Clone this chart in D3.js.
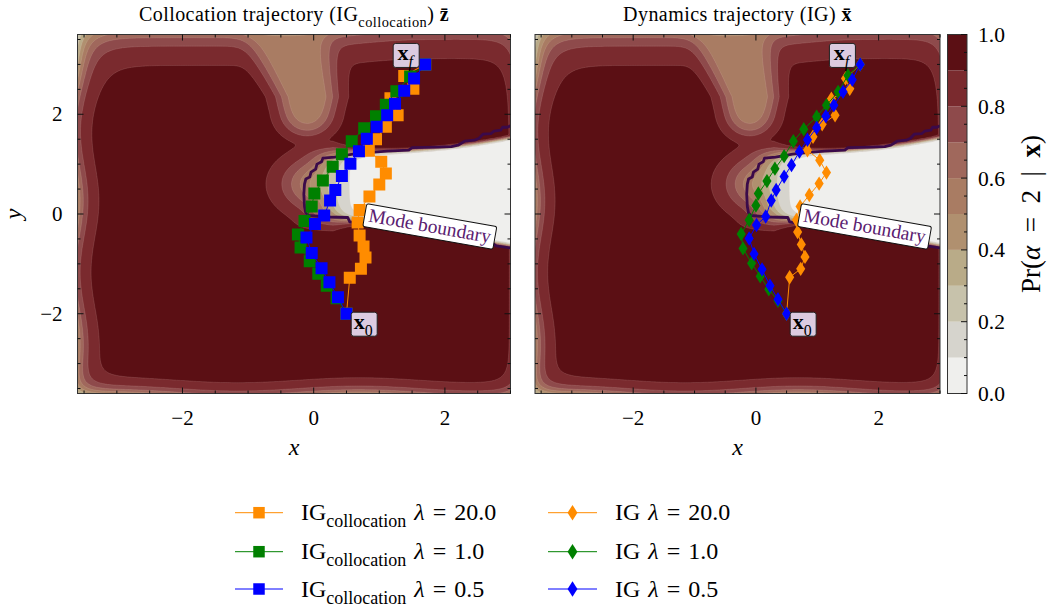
<!DOCTYPE html>
<html><head><meta charset="utf-8">
<script src="https://cdn.jsdelivr.net/npm/d3@7"></script>
<style>body{margin:0;background:#fff}</style>
</head><body><svg id="fig" width="1048" height="608"></svg>
<script>
// ---------- data ----------
const xDomain = [-3.6, 3.0];
const yDomain = [-3.6, 3.6];
const xTicks = [-2, 0, 2];
const yTicks = [-2, 0, 2];
const levels = [0, 0.1, 0.2, 0.3, 0.4, 0.5, 0.6, 0.7, 0.8, 0.9, 1.0];
const bandColors = ["#efefed", "#d6d4cd", "#c7c2ab", "#b9ab88", "#b0906f",
                    "#a97c63", "#a0685c", "#8e4a4b", "#7a2a2e", "#5b0f14"];
const cbTicks = [0, 0.2, 0.4, 0.6, 0.8, 1.0];
const lambdaLabels = ["20.0", "1.0", "0.5"];
const seriesColors = ["#ff8c00", "#008000", "#0000ff"];

// collocation trajectories (x, y)
const colloc20 = [[0.5,-2.0],[0.55,-1.28],[0.72,-1.1],[0.79,-0.87],[0.76,-0.65],[0.7,-0.43],[0.67,-0.17],[0.7,0.08],[0.85,0.35],[1.0,0.59],[1.1,0.81],[1.03,1.05],[0.84,1.27],[0.95,1.5],[1.1,1.75],[1.28,1.98],[1.17,2.32],[1.52,2.51],[1.38,2.77],[1.7,3.0]];
const colloc1 = [[0.5,-2.0],[0.35,-1.69],[0.2,-1.44],[0.07,-1.2],[-0.06,-0.95],[-0.2,-0.67],[-0.24,-0.41],[-0.14,-0.14],[-0.03,0.15],[0.01,0.41],[0.14,0.67],[0.29,0.95],[0.43,1.2],[0.58,1.46],[0.77,1.72],[0.95,1.96],[1.1,2.19],[1.26,2.46],[1.47,2.76],[1.7,3.0]];
const colloc05 = [[0.5,-2.0],[0.37,-1.67],[0.24,-1.37],[0.12,-1.09],[-0.03,-0.78],[-0.11,-0.47],[0.02,-0.2],[0.16,-0.03],[0.25,0.27],[0.33,0.48],[0.43,0.76],[0.56,1.01],[0.69,1.26],[0.81,1.51],[0.96,1.75],[1.12,1.98],[1.24,2.21],[1.38,2.47],[1.53,2.72],[1.7,3.0]];
// dynamics trajectories (x, y)
const ig20 = [[0.5,-2.0],[0.55,-1.27],[0.73,-1.1],[0.8,-0.86],[0.74,-0.61],[0.68,-0.36],[0.66,-0.12],[0.72,0.15],[0.87,0.38],[1.03,0.61],[1.15,0.83],[1.04,1.08],[0.84,1.28],[0.93,1.55],[1.08,1.8],[1.29,1.98],[1.23,2.31],[1.53,2.51],[1.46,2.72],[1.7,3.0]];
const ig1 = [[0.5,-2.0],[0.36,-1.74],[0.21,-1.51],[0.07,-1.25],[-0.07,-0.99],[-0.21,-0.69],[-0.24,-0.4],[-0.11,-0.12],[0.0,0.17],[0.04,0.41],[0.18,0.66],[0.31,0.91],[0.46,1.16],[0.61,1.46],[0.78,1.7],[0.99,1.95],[1.15,2.18],[1.34,2.45],[1.5,2.78],[1.7,3.0]];
const ig05 = [[0.5,-2.0],[0.36,-1.71],[0.23,-1.44],[0.1,-1.11],[-0.03,-0.8],[-0.11,-0.49],[0.01,-0.22],[0.16,-0.05],[0.25,0.27],[0.33,0.48],[0.46,0.75],[0.58,0.98],[0.71,1.25],[0.84,1.49],[0.99,1.73],[1.14,1.96],[1.27,2.18],[1.42,2.45],[1.57,2.69],[1.7,3.0]];

// mode boundary polyline (x, y)
const modeBoundary = [[3.0,1.77],[2.95,1.74],[2.88,1.74],[2.85,1.68],[2.75,1.66],[2.7,1.61],[2.58,1.6],[2.52,1.52],[2.45,1.48],[2.3,1.46],[2.2,1.38],[2.1,1.35],[1.9,1.34],[1.5,1.33],[1.45,1.28],[1.12,1.26],[0.82,1.23],[0.6,1.2],[0.32,1.14],[0.14,1.12],[0.12,1.05],[0.05,1.0],[0.03,0.9],[-0.04,0.84],[-0.06,0.74],[-0.12,0.7],[-0.14,0.6],[-0.15,0.4],[-0.14,0.15],[-0.12,0.02],[-0.08,-0.03],[0.22,-0.06],[0.52,-0.07],[0.55,-0.16],[1.0,-0.26],[1.6,-0.38],[2.2,-0.49],[2.7,-0.56],[2.78,-0.64],[3.0,-0.68]];

// annotation anchors (x, y)
const xfLabelPos = [1.41, 3.18];
const x0LabelPos = [0.77, -2.21];
const modeLabelPos = [1.77, -0.25];

// ---------- probability surface Pr(alpha = 2 | x) ----------
// logit = BASE - penalty; the penalty blends the border falloff, the upper valley
// between the two high-probability lobes, a halo round the wedge tip and the wedge.
const BASE = 3.2;
const edgeLeft = {at: -3.6, amp: 2.6, s: 0.28, wave: 0.06};
const edgeBottom = {at: -3.6, amp: 2.6, s: 0.28, wave: 0.05};
const edgeRight = {at: 3.0, amp: 1.1, s: 0.2};
const edgeTop = {at: 3.6, amp: 2.6, ampRight: 2.1, s: 0.65};
const valley = {amp: 4.2, cap: 3.0, yOn: 1.62, sOn: 0.2};
const halo = {amp: 3.2, cx: 0.08, cy: 0.6, sx: 0.75, sy: 0.72};
const wedge = {amp: 6.5, xTip: 0.12, sTip: 0.27, tau: 1.0};

const sig = v => 1 / (1 + Math.exp(-v));
function logitAt(x, y) {
  const xl = edgeLeft.at + edgeLeft.wave * Math.sin(2.2 * y + 1.0);
  const yb = edgeBottom.at + edgeBottom.wave * Math.sin(1.7 * x + 0.4);
  const eL = edgeLeft.amp * Math.exp(-(x - xl) / edgeLeft.s);
  const eB = edgeBottom.amp * Math.exp(-(y - yb) / edgeBottom.s);
  const eR = edgeRight.amp * Math.exp(-(edgeRight.at - x) / edgeRight.s);
  const aT = edgeTop.amp + (edgeTop.ampRight - edgeTop.amp) * sig((x - 0.8) / 0.3);
  const eT = aT * Math.exp(-(edgeTop.at - y) / edgeTop.s);
  const q = 1.4;
  const E = Math.pow(Math.pow(eL, q) + Math.pow(eB, q) + Math.pow(eR, q) + Math.pow(eT, q), 1 / q);

  const cx = y > 2.35 ? -0.1 - 0.25 * (y - 2.35) : -0.1;
  const w = 0.5 + 0.17 * Math.pow(Math.max(0, y - 2.0), 1.5);
  const vRaw = valley.amp * Math.exp(-Math.pow((x - cx) / w, 2)) * sig((y - valley.yOn) / valley.sOn);
  const V = -Math.log(Math.exp(-3 * vRaw) + Math.exp(-3 * valley.cap)) / 3;

  const H = halo.amp * Math.exp(-Math.pow((x - halo.cx) / halo.sx, 2) - Math.pow((y - halo.cy) / halo.sy, 2));

  const u = x - 1;
  const yTop = 1.25 + 0.02 * u + (u > 0 ? 0.06 * u * u : 0);
  const yBot = x < 0.8 ? -0.13 : -0.13 - 0.227 * (x - 0.8);
  const sT = 0.03 + 0.1 * Math.exp(-Math.max(0, x - 0.3) / 0.3);
  const sB = 0.03 + 0.1 * Math.exp(-Math.max(0, x - 0.3) / 0.3);
  const tTip = (wedge.xTip - x) / wedge.sTip;
  const tTop = (y - yTop) / sT;
  const tBot = (yBot - y) / sB;
  const m = Math.max(tTip, tTop, tBot);
  const t = m + wedge.tau * Math.log(Math.exp((tTip - m) / wedge.tau) + Math.exp((tTop - m) / wedge.tau) + Math.exp((tBot - m) / wedge.tau));
  const Wd = wedge.amp * sig(-t);

  const k = 5;
  const P = Math.pow(Math.pow(E, k) + Math.pow(V, k) + Math.pow(H, k) + Math.pow(Wd, k), 1 / k);
  return BASE - P;
}

// ---------- layout ----------
const FONT = "'Liberation Serif', 'Times New Roman', serif";
const svg = d3.select("#fig").attr("font-family", FONT);
const plotTop = 34.5, plotBottom = 393.5;
const panels = [
  {left: 77.5, right: 510.5, series: [colloc20, colloc1, colloc05], marker: "square",
   title: [{t: "Collocation trajectory (IG"}, {t: "collocation", sub: true}, {t: ") "}, {t: "z\u0304", b: true}]},
  {left: 535, right: 940, series: [ig20, ig1, ig05], marker: "diamond",
   title: [{t: "Dynamics trajectory (IG) "}, {t: "x\u0304", b: true}]}
];

function rich(textSel, parts, fs, subScale = 0.72) {
  let shift = 0;
  parts.forEach(p => {
    const ts = textSel.append("tspan").text(p.t);
    const target = p.sub ? fs * 0.3 : 0;
    if (target !== shift) { ts.attr("dy", target - shift); shift = target; }
    ts.attr("font-size", p.sub ? fs * subScale : fs);
    if (p.i) ts.attr("font-style", "italic");
    if (p.b) ts.attr("font-weight", "bold");
  });
}

// grid for the filled contours
const nx = 250, ny = 270;
const gx0 = -3.75, gx1 = 3.15, gy0 = -3.75, gy1 = 3.75;
const dxg = (gx1 - gx0) / (nx - 1), dyg = (gy1 - gy0) / (ny - 1);
const grid = new Float64Array(nx * ny);
for (let j = 0; j < ny; j++) for (let i = 0; i < nx; i++) {
  grid[j * nx + i] = sig(logitAt(gx0 + i * dxg, gy1 - j * dyg));
}
const bands = d3.contours().size([nx, ny]).thresholds(levels.slice(1, -1))(grid);

function markerPath(kind, size) {
  if (kind === "square") {
    const h = size / 2;
    return `M${-h},${-h}H${h}V${h}H${-h}Z`;
  }
  const hh = size * 0.6, hw = size * 0.38;
  return `M0,${-hh}L${hw},0L0,${hh}L${-hw},0Z`;
}

const sp = "\u2004";
panels.forEach((pn, k) => {
  const xs = d3.scaleLinear().domain(xDomain).range([pn.left, pn.right]);
  const ys = d3.scaleLinear().domain(yDomain).range([plotBottom, plotTop]);
  const g = svg.append("g");
  const clipId = "clip" + k;
  svg.append("clipPath").attr("id", clipId).append("rect")
    .attr("x", pn.left).attr("y", plotTop).attr("width", pn.right - pn.left).attr("height", plotBottom - plotTop);
  const plot = g.append("g").attr("clip-path", `url(#${clipId})`);

  plot.append("rect").attr("x", pn.left).attr("y", plotTop)
    .attr("width", pn.right - pn.left).attr("height", plotBottom - plotTop).attr("fill", bandColors[0]);
  const proj = d3.geoPath(d3.geoTransform({
    point(px, py) { this.stream.point(xs(gx0 + (px - 0.5) * dxg), ys(gy1 - (py - 0.5) * dyg)); }
  }));
  plot.selectAll("path.band").data(bands).join("path").attr("class", "band")
    .attr("d", proj)
    .attr("fill", d => bandColors[Math.round(d.value * 10)])
    .attr("stroke", "rgba(255,235,225,0.22)").attr("stroke-width", 0.6);

  // mode boundary
  const line = d3.line().x(d => xs(d[0])).y(d => ys(d[1]));
  plot.append("path").attr("d", line(modeBoundary)).attr("fill", "none")
    .attr("stroke", "#3b0a4a").attr("stroke-width", 2.8).attr("stroke-linejoin", "round");

  // trajectories
  pn.series.forEach((s, si) => {
    plot.append("path").attr("d", line(s)).attr("fill", "none")
      .attr("stroke", seriesColors[si]).attr("stroke-width", 1);
    plot.selectAll(null).data(s).join("path")
      .attr("transform", d => `translate(${xs(d[0])},${ys(d[1])})`)
      .attr("d", markerPath(pn.marker, 12))
      .attr("fill", seriesColors[si]);
  });

  // mode boundary label
  const ml = plot.append("g")
    .attr("transform", `translate(${xs(modeLabelPos[0])},${ys(modeLabelPos[1])}) rotate(10)`);
  const mlBox = ml.append("rect");
  const mlText = ml.append("text").attr("text-anchor", "middle").attr("dy", "0.3em")
    .attr("font-size", 19.5).attr("fill", "#5a2070").text("Mode boundary");
  const mw = mlText.node().getComputedTextLength();
  mlBox.attr("x", -mw / 2 - 4).attr("y", -11.5).attr("width", mw + 8).attr("height", 23)
    .attr("rx", 2).attr("fill", "#fff").attr("stroke", "#111").attr("stroke-width", 1);

  // endpoint labels
  [[xfLabelPos, "f", true], [x0LabelPos, "0", false]].forEach(([pos, sub, it]) => {
    const lg = plot.append("g").attr("transform", `translate(${xs(pos[0])},${ys(pos[1])})`);
    lg.append("rect").attr("x", -13).attr("y", -12).attr("width", 26).attr("height", 24).attr("rx", 2.5)
      .attr("fill", "#dccbe0").attr("stroke", "#222").attr("stroke-width", 1);
    const tx = lg.append("text").attr("x", -1).attr("y", 5).attr("text-anchor", "middle");
    rich(tx, [{t: "x", b: true}, {t: sub, sub: true, i: it}], 22);
  });

  // frame and ticks
  g.append("rect").attr("x", pn.left).attr("y", plotTop).attr("width", pn.right - pn.left)
    .attr("height", plotBottom - plotTop).attr("fill", "none").attr("stroke", "#333").attr("stroke-width", 1);
  const tk = g.append("g").attr("stroke", "#111").attr("stroke-width", 1);
  d3.range(-3.5, 3.01, 0.5).forEach(v => {
    const major = xTicks.includes(v), L = major ? 6 : 3;
    const x = xs(v);
    tk.append("line").attr("x1", x).attr("x2", x).attr("y1", plotBottom).attr("y2", plotBottom - L);
    tk.append("line").attr("x1", x).attr("x2", x).attr("y1", plotTop).attr("y2", plotTop + L);
  });
  d3.range(-3.5, 3.51, 0.5).forEach(v => {
    const major = yTicks.includes(v), L = major ? 6 : 3;
    const y = ys(v);
    tk.append("line").attr("x1", pn.left).attr("x2", pn.left + L).attr("y1", y).attr("y2", y);
    tk.append("line").attr("x1", pn.right).attr("x2", pn.right - L).attr("y1", y).attr("y2", y);
  });
  const fmt = v => (v < 0 ? "\u2212" : "") + Math.abs(v);
  g.selectAll(null).data(xTicks).join("text").attr("x", d => xs(d)).attr("y", 425)
    .attr("text-anchor", "middle").attr("font-size", 21).text(fmt);
  if (k === 0) {
    g.selectAll(null).data(yTicks).join("text").attr("x", pn.left - 15).attr("y", d => ys(d) + 7)
      .attr("text-anchor", "end").attr("font-size", 21).text(fmt);
    g.append("text").attr("transform", `translate(21,${ys(0)}) rotate(-90)`).attr("text-anchor", "middle")
      .attr("font-size", 24).attr("font-style", "italic").text("y");
  }
  g.append("text").attr("x", (pn.left + pn.right) / 2).attr("y", 455).attr("text-anchor", "middle")
    .attr("font-size", 24).attr("font-style", "italic").text("x");
  const tt = g.append("text").attr("x", (pn.left + pn.right) / 2).attr("y", 21).attr("text-anchor", "middle")
    .attr("letter-spacing", 0.45);
  rich(tt, pn.title, 20);
});

// ---------- colorbar ----------
const cb = {left: 947.5, right: 967};
const cs = d3.scaleLinear().domain([0, 1]).range([plotBottom, plotTop]);
const cbg = svg.append("g");
cbg.selectAll(null).data(bandColors).join("rect")
  .attr("x", cb.left).attr("width", cb.right - cb.left)
  .attr("y", (d, i) => cs(levels[i + 1])).attr("height", (d, i) => cs(levels[i]) - cs(levels[i + 1]))
  .attr("fill", d => d);
cbg.append("rect").attr("x", cb.left).attr("y", plotTop).attr("width", cb.right - cb.left)
  .attr("height", plotBottom - plotTop).attr("fill", "none").attr("stroke", "#333").attr("stroke-width", 1);
d3.range(0, 1.001, 0.05).forEach(v => {
  const major = Math.abs(v * 5 - Math.round(v * 5)) < 1e-6;
  cbg.append("line").attr("x1", cb.right).attr("x2", cb.right - (major ? 6 : 3))
    .attr("y1", cs(v)).attr("y2", cs(v)).attr("stroke", "#111");
});
cbg.selectAll(null).data(cbTicks).join("text").attr("x", 978).attr("y", d => cs(d) + 7.5)
  .attr("font-size", 21.5).text(d => d.toFixed(1));
const cbl = cbg.append("text").attr("transform", `translate(1040,${(plotTop + plotBottom) / 2}) rotate(-90)`)
  .attr("text-anchor", "middle");
const en = "\u2002";
rich(cbl, [{t: "Pr("}, {t: "\u03b1", i: true}, {t: en + "=" + en + "2" + en + "|" + en}, {t: "x", b: true}, {t: ")"}], 27);

// ---------- legend ----------
const legendRows = [512.7, 551.7, 589];
const legendCols = [
  {x1: 235, x2: 283, text: 301, marker: "square", parts: l => [{t: "IG"}, {t: "collocation", sub: true}, {t: sp}, {t: "\u03bb", i: true}, {t: sp + "=" + sp + l}]},
  {x1: 548, x2: 597, text: 615, marker: "diamond", parts: l => [{t: "IG" + sp}, {t: "\u03bb", i: true}, {t: sp + "=" + sp + l}]}
];
const lg = svg.append("g");
legendCols.forEach(col => {
  lambdaLabels.forEach((lab, i) => {
    const y = legendRows[i];
    lg.append("line").attr("x1", col.x1).attr("x2", col.x2).attr("y1", y).attr("y2", y)
      .attr("stroke", seriesColors[i]).attr("stroke-width", 1);
    lg.append("path").attr("transform", `translate(${(col.x1 + col.x2) / 2},${y})`)
      .attr("d", col.marker === "square" ? markerPath("square", 11.5) : markerPath("diamond", 13))
      .attr("fill", seriesColors[i]);
    const tx = lg.append("text").attr("x", col.text).attr("y", y + 7.5);
    rich(tx, col.parts(lab), 24, 0.75);
  });
});
</script></body></html>
